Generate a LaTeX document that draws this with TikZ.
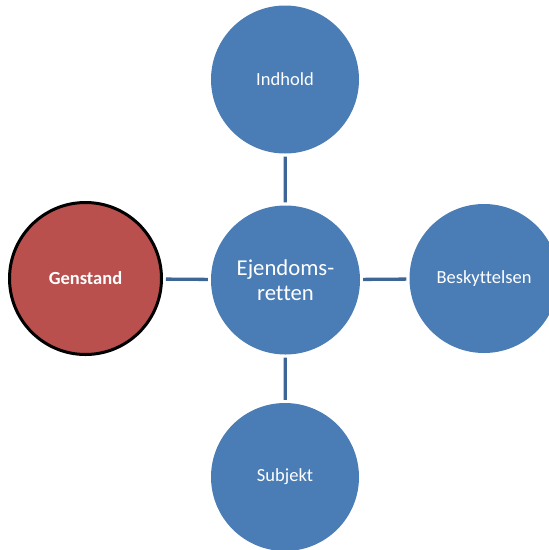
\documentclass[tikz,border=0pt]{standalone}
\usepackage{fontspec}
\setmainfont{Carlito}[Ligatures={NoCommon}]
\definecolor{cblue}{HTML}{4A7CB5}
\definecolor{cred}{HTML}{B9504D}
\definecolor{cline}{HTML}{3D6696}
\begin{document}
\begin{tikzpicture}[x=1pt,y=-1pt,
  bub/.style={circle,fill=cblue,draw=none,text=white,align=center,inner sep=0pt,font=\fontsize{18.5}{22}\selectfont},
  big/.style={font=\fontsize{22.7}{25.6}\selectfont},
  link/.style={draw=cline,line width=3.3pt,shorten <=3pt,shorten >=3pt}]
\useasboundingbox (0,0) rectangle (549,550);
\clip (0,0) rectangle (549,550);
\node[bub,big,minimum size=149pt] (c) at (285.5,280) {Ejendoms-\\retten};
\node[bub,minimum size=148pt] (t) at (285,79.5) {Indhold};
\node[bub,minimum size=148pt] (b) at (285,477) {Subjekt};
\node[bub,minimum size=149pt] (r) at (484,278.5) {Beskyttelsen};
\node[bub,fill=cred,draw=black,line width=3pt,minimum size=152pt] (l) at (85.5,278.5) {\bfseries Genstand};
\draw[link] (t) -- (c);
\draw[link] (c) -- (b);
\draw[link] (l) -- (c);
\draw[link] (c) -- (r);
\end{tikzpicture}
\end{document}
